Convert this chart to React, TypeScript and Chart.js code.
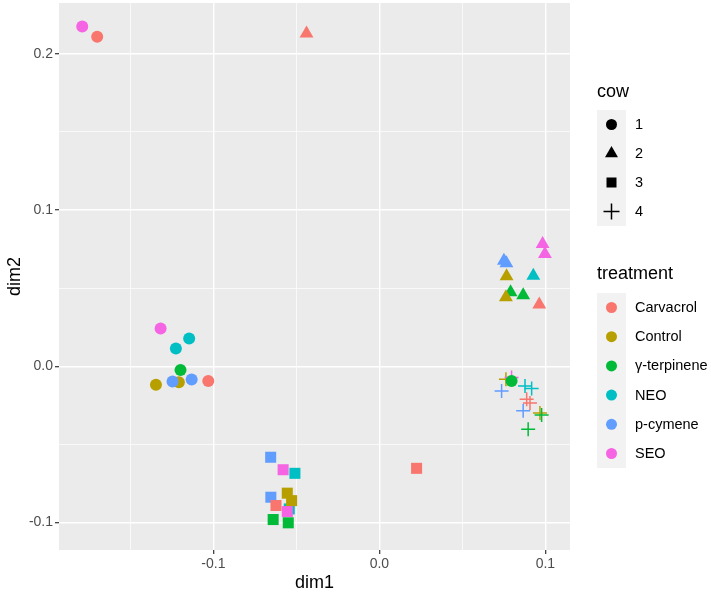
import React, { useEffect, useRef } from "react";
import { Chart, registerables } from "chart.js";

Chart.register(...registerables);

const treatments = ["Carvacrol", "Control", "γ-terpinene", "NEO", "p-cymene", "SEO"];
const treatmentColors = ["#F8766D", "#B79F00", "#00BA38", "#00BFC4", "#619CFF", "#F564E3"];
const cows = ["1", "2", "3", "4"];

// cow 1 (circles)
const cow1Treatment = ["SEO", "Carvacrol", "SEO", "NEO", "NEO", "γ-terpinene", "Control", "Control", "p-cymene", "p-cymene", "Carvacrol", "γ-terpinene"];
const cow1Dim1 = [-0.179, -0.170, -0.1318, -0.1146, -0.1226, -0.1198, -0.1346, -0.1208, -0.1246, -0.1131, -0.1031, 0.0796];
const cow1Dim2 = [0.2175, 0.211, 0.0241, 0.0177, 0.0113, -0.0024, -0.0119, -0.0102, -0.0098, -0.0085, -0.0094, -0.0094];

// cow 2 (triangles)
const cow2Treatment = ["Carvacrol", "SEO", "SEO", "p-cymene", "p-cymene", "Control", "NEO", "γ-terpinene", "γ-terpinene", "Control", "Carvacrol"];
const cow2Dim1 = [-0.0439, 0.0983, 0.0997, 0.0765, 0.0750, 0.0766, 0.0927, 0.0790, 0.0866, 0.0762, 0.0963];
const cow2Dim2 = [0.2130, 0.0782, 0.0718, 0.0660, 0.0676, 0.0576, 0.0580, 0.0474, 0.0454, 0.0442, 0.0395];

// cow 3 (squares)
const cow3Treatment = ["p-cymene", "SEO", "NEO", "p-cymene", "Control", "NEO", "Control", "Carvacrol", "SEO", "γ-terpinene", "γ-terpinene", "Carvacrol"];
const cow3Dim1 = [-0.0655, -0.0580, -0.0509, -0.0654, -0.0555, -0.0543, -0.0529, -0.0623, -0.0555, -0.0640, -0.0549, 0.0224];
const cow3Dim2 = [-0.0583, -0.0663, -0.0686, -0.0839, -0.0813, -0.0914, -0.0861, -0.0892, -0.0931, -0.0982, -0.1003, -0.0654];

// cow 4 (crosses)
const cow4Treatment = ["Control", "SEO", "p-cymene", "NEO", "NEO", "Carvacrol", "Carvacrol", "p-cymene", "Control", "γ-terpinene", "γ-terpinene"];
const cow4Dim1 = [0.0762, 0.0796, 0.0736, 0.0877, 0.0917, 0.0887, 0.0907, 0.0866, 0.0967, 0.0977, 0.0896];
const cow4Dim2 = [-0.0083, -0.0072, -0.0158, -0.0126, -0.0143, -0.0211, -0.0236, -0.0286, -0.0300, -0.0313, -0.0403];

const xMin = -0.193;
const xMax = 0.1148;
const yMin = -0.1177;
const yMax = 0.2326;

const FONT = '"Liberation Sans", Arial, Helvetica, sans-serif';

const colorOf = (t: string) => treatmentColors[treatments.indexOf(t)];
const isMajor = (v: number) => Math.round(v * 20) % 2 === 0;

function drawShape(ctx: CanvasRenderingContext2D, shape: string, x: number, y: number, s: number, color: string) {
  ctx.fillStyle = color;
  ctx.strokeStyle = color;
  ctx.beginPath();
  if (shape === "circle") {
    ctx.arc(x, y, s, 0, Math.PI * 2);
    ctx.fill();
  } else if (shape === "triangle") {
    ctx.moveTo(x, y - s);
    ctx.lineTo(x + s * Math.sqrt(3) / 2, y + s / 2);
    ctx.lineTo(x - s * Math.sqrt(3) / 2, y + s / 2);
    ctx.closePath();
    ctx.fill();
  } else if (shape === "rect") {
    ctx.rect(x - s, y - s, 2 * s, 2 * s);
    ctx.fill();
  } else {
    ctx.lineWidth = 1.5;
    ctx.moveTo(x - s, y);
    ctx.lineTo(x + s, y);
    ctx.moveTo(x, y - s);
    ctx.lineTo(x, y + s);
    ctx.stroke();
  }
}

const ggPlugin = {
  id: "ggTheme",
  beforeDraw(chart: any) {
    const { ctx, chartArea } = chart;
    ctx.save();
    ctx.fillStyle = "#FFFFFF";
    ctx.fillRect(0, 0, chart.width, chart.height);
    ctx.fillStyle = "#EBEBEB";
    ctx.fillRect(chartArea.left, chartArea.top, chartArea.right - chartArea.left, chartArea.bottom - chartArea.top);
    ctx.restore();
  },
  afterDraw(chart: any) {
    const { ctx, chartArea } = chart;
    ctx.save();
    // axis titles
    ctx.fillStyle = "#000000";
    ctx.font = `18px ${FONT}`;
    ctx.textAlign = "center";
    ctx.textBaseline = "middle";
    ctx.fillText("dim1", (chartArea.left + chartArea.right) / 2, 583);
    ctx.save();
    ctx.translate(15, (chartArea.top + chartArea.bottom) / 2);
    ctx.rotate(-Math.PI / 2);
    ctx.fillText("dim2", 0, 0);
    ctx.restore();

    // cow legend
    ctx.textAlign = "left";
    ctx.font = `18px ${FONT}`;
    ctx.fillText("cow", 597, 92);
    ctx.fillStyle = "#F2F2F2";
    ctx.fillRect(597, 110, 29, 116);
    const shapes = ["circle", "triangle", "rect", "cross"];
    const sizes = [5.5, 7.5, 5, 8];
    ctx.font = `14.5px ${FONT}`;
    cows.forEach((c, i) => {
      const cy = 124.5 + i * 29;
      drawShape(ctx, shapes[i], 611.5, cy, sizes[i], "#000000");
      ctx.fillStyle = "#000000";
      ctx.fillText(c, 635, cy + 0.5);
    });

    // treatment legend
    ctx.font = `18px ${FONT}`;
    ctx.fillStyle = "#000000";
    ctx.fillText("treatment", 597, 274);
    ctx.fillStyle = "#F2F2F2";
    ctx.fillRect(597, 293, 29, 175);
    ctx.font = `14.5px ${FONT}`;
    treatments.forEach((t, i) => {
      const cy = 307.5 + i * 29.2;
      drawShape(ctx, "circle", 611.5, cy, 5.5, treatmentColors[i]);
      ctx.fillStyle = "#000000";
      ctx.fillText(t, 635, cy + 0.5);
    });
    ctx.restore();
  },
};

function makeDataset(dim1: number[], dim2: number[], trt: string[], style: string, radius: number) {
  const colors = trt.map(colorOf);
  const isCross = style === "cross";
  return {
    data: dim1.map((x, i) => ({ x, y: dim2[i] })),
    pointStyle: style,
    pointRadius: radius,
    pointBackgroundColor: colors,
    pointBorderColor: colors,
    pointBorderWidth: isCross ? 1.5 : 0,
    showLine: false,
  };
}

const tickLabel = (v: any) => {
  const k = Math.round(Number(v) * 20);
  return k % 2 === 0 ? (k / 20).toFixed(1) : "";
};

export default function App() {
  const ref = useRef<HTMLCanvasElement | null>(null);
  useEffect(() => {
    if (!ref.current) return;
    const chart = new Chart(ref.current, {
      type: "scatter",
      data: {
        datasets: [
          makeDataset(cow1Dim1, cow1Dim2, cow1Treatment, "circle", 6),
          makeDataset(cow2Dim1, cow2Dim2, cow2Treatment, "triangle", 8),
          makeDataset(cow3Dim1, cow3Dim2, cow3Treatment, "rect", 7.8),
          makeDataset(cow4Dim1, cow4Dim2, cow4Treatment, "cross", 7),
        ] as any,
      },
      options: {
        animation: false,
        responsive: false,
        devicePixelRatio: 1,
        layout: { autoPadding: false, padding: { left: 0, right: 141, top: 3, bottom: 0 } },
        plugins: { legend: { display: false }, tooltip: { enabled: false } },
        scales: {
          x: {
            type: "linear",
            min: xMin,
            max: xMax,
            border: { display: false },
            grid: {
              color: "#FFFFFF",
              lineWidth: (c: any) => (isMajor(c.tick.value) ? 1.4 : 0.7),
              tickColor: (c: any) => (isMajor(c.tick.value) ? "#333333" : "rgba(0,0,0,0)"),
              tickLength: 4,
              tickWidth: 1.2,
            },
            ticks: {
              stepSize: 0.05,
              includeBounds: false,
              autoSkip: false,
              maxRotation: 0,
              padding: 2,
              color: "#4D4D4D",
              font: { family: FONT, size: 14 },
              callback: tickLabel,
            },
            afterFit: (s: any) => {
              s.height = 43;
              s.paddingLeft = 0;
              s.paddingRight = 0;
            },
          },
          y: {
            type: "linear",
            min: yMin,
            max: yMax,
            border: { display: false },
            grid: {
              color: "#FFFFFF",
              lineWidth: (c: any) => (isMajor(c.tick.value) ? 1.4 : 0.7),
              tickColor: (c: any) => (isMajor(c.tick.value) ? "#333333" : "rgba(0,0,0,0)"),
              tickLength: 4,
              tickWidth: 1.2,
            },
            ticks: {
              stepSize: 0.05,
              includeBounds: false,
              autoSkip: false,
              padding: 2,
              color: "#4D4D4D",
              font: { family: FONT, size: 14 },
              callback: tickLabel,
            },
            afterFit: (s: any) => {
              s.width = 59;
              s.paddingTop = 0;
              s.paddingBottom = 0;
            },
          },
        },
      },
      plugins: [ggPlugin],
    });
    return () => chart.destroy();
  }, []);
  return (
    <div style={{ position: "absolute", left: 0, top: 0, width: 711, height: 593, background: "#FFFFFF" }}>
      <canvas ref={ref} width={711} height={593} style={{ display: "block" }} />
    </div>
  );
}
